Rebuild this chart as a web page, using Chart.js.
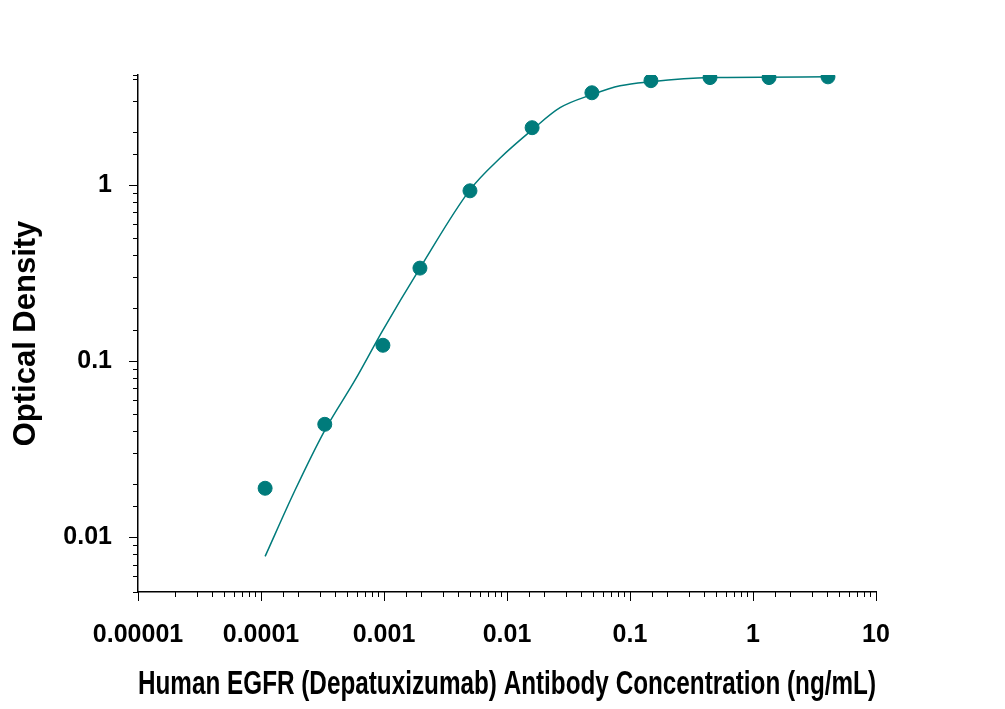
<!DOCTYPE html>
<html><head><meta charset="utf-8">
<script src="https://cdn.jsdelivr.net/npm/chart.js@4/dist/chart.umd.min.js"></script>
<style>html,body{margin:0;background:#fff}#wrap{width:1005px;height:709px}</style>
</head><body><div id="wrap"><canvas id="c"></canvas></div>
<script>
// measured points
const concX = [0.000108, 0.00033, 0.00098, 0.00196, 0.005, 0.016, 0.049, 0.148, 0.447, 1.35, 4.07];
const odY = [0.019, 0.0438, 0.123, 0.337, 0.925, 2.11, 3.33, 3.9, 4.06, 4.06, 4.1];
// fitted curve
const curveX = [0.000108, 0.000189, 0.000331, 0.000581, 0.00098, 0.00196, 0.005, 0.0088, 0.016, 0.027, 0.049, 0.083, 0.148, 0.447, 4.07];
const curveY = [0.0078, 0.0185, 0.0406, 0.078, 0.15, 0.337, 0.937, 1.42, 2.05, 2.74, 3.25, 3.65, 3.85, 4.06, 4.1];
const yLabels = [0.01, 0.1, 1];
const xLabels = [0.00001, 0.0001, 0.001, 0.01, 0.1, 1, 10];

const teal = '#007b7b';
const isPow10 = v => Math.abs(Math.log10(v) - Math.round(Math.log10(v))) < 1e-6;

// draw major/minor tick marks outside the axes
const tickMarks = {
  id: 'tickMarks',
  afterDraw(chart) {
    const c = chart.ctx, xs = chart.scales.x, ys = chart.scales.y;
    c.save();
    c.strokeStyle = '#000';
    c.lineWidth = 1;
    xs.ticks.forEach(t => {
      const px = Math.round(xs.getPixelForValue(t.value)) + 0.5;
      const len = isPow10(t.value) ? 9 : 5;
      c.beginPath(); c.moveTo(px, xs.top); c.lineTo(px, xs.top + len); c.stroke();
    });
    ys.ticks.forEach(t => {
      const py = Math.round(ys.getPixelForValue(t.value)) + 0.5;
      const len = isPow10(t.value) ? 9 : 5;
      c.beginPath(); c.moveTo(ys.right, py); c.lineTo(ys.right - len, py); c.stroke();
    });
    c.restore();
  }
};

new Chart(document.getElementById('c'), {
  type: 'scatter',
  data: {
    datasets: [
      {
        data: curveX.map((x, i) => ({ x: x, y: curveY[i] })),
        showLine: true,
        borderColor: teal,
        borderWidth: 1.5,
        pointRadius: 0,
        cubicInterpolationMode: 'monotone'
      },
      {
        data: concX.map((x, i) => ({ x: x, y: odY[i] })),
        backgroundColor: teal,
        borderColor: teal,
        pointRadius: 7,
        showLine: false
      }
    ]
  },
  options: {
    responsive: true,
    maintainAspectRatio: false,
    animation: false,
    layout: { padding: { left: 4, top: 75, right: 129, bottom: 0 } },
    plugins: { legend: { display: false }, tooltip: { enabled: false } },
    scales: {
      x: {
        type: 'logarithmic',
        min: 0.00001, max: 10,
        border: { display: true, color: '#000', width: 1.5 },
        grid: { display: false },
        afterFit: s => { s.height = 117; },
        ticks: {
          color: '#000', padding: 20, autoSkip: false, maxRotation: 0,
          font: { family: 'Liberation Sans', size: 25, weight: 'bold' },
          callback: v => xLabels.find(l => Math.abs(l - v) / l < 1e-6) !== undefined ? String(v.toFixed(Math.max(0, -Math.round(Math.log10(v))))) : ''
        },
        title: {
          display: true, text: 'Human EGFR (Depatuxizumab) Antibody Concentration (ng/mL)',
          color: '#000', padding: { top: 8 },
          font: { family: 'Liberation Sans', size: 34, weight: 'bold' }
        }
      },
      y: {
        type: 'logarithmic',
        min: 0.0049, max: 4.2,
        border: { display: true, color: '#000', width: 1.5 },
        grid: { display: false },
        afterFit: s => { s.width = 134; },
        ticks: {
          color: '#000', padding: 18, autoSkip: false,
          font: { family: 'Liberation Sans', size: 25, weight: 'bold' },
          callback: v => yLabels.find(l => Math.abs(l - v) / l < 1e-6) !== undefined ? String(v) : ''
        },
        title: {
          display: true, text: 'Optical Density', color: '#000', padding: { bottom: 0 },
          font: { family: 'Liberation Sans', size: 31, weight: 'bold' }
        }
      }
    }
  },
  plugins: [tickMarks]
});
</script></body></html>
